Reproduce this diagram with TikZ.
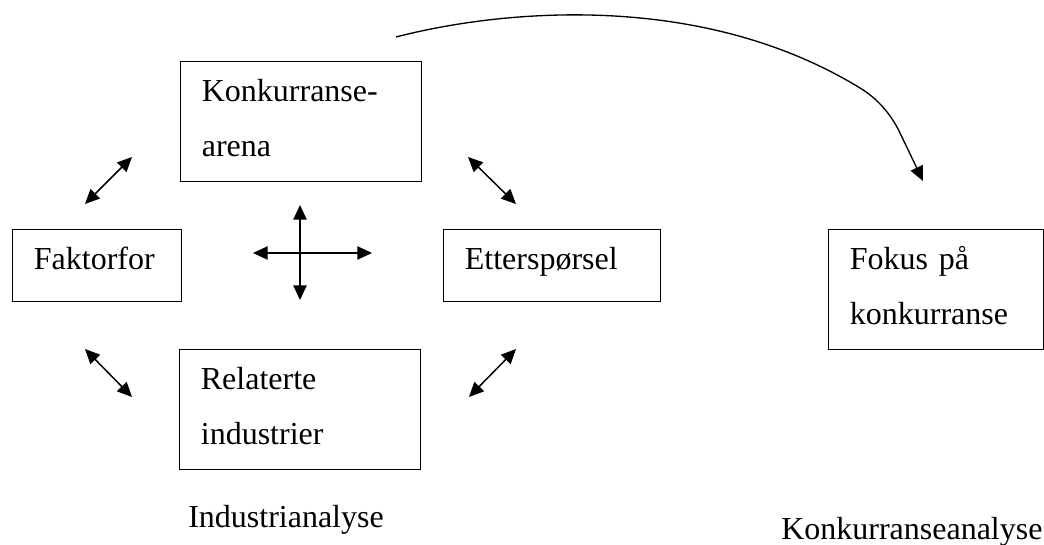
\documentclass[tikz,border=0pt]{standalone}
\usepackage{fontspec}
\setmainfont{Liberation Serif}
\usetikzlibrary{arrows.meta}
\tikzset{>={Triangle[length=11pt,width=10pt]}}
\newcommand{\opp}{\rule{0pt}{30pt}}
\newcommand{\ned}[1]{\rule[-#1]{0pt}{#1}}

\begin{document}
\begin{tikzpicture}[x=0.75pt, y=-0.75pt, font=\fontsize{24pt}{41.25pt}\selectfont,
  boks/.style={draw, line width=0.8pt, anchor=north west, inner xsep=16pt, inner ysep=0pt, align=left},
  tekst/.style={anchor=base west, inner sep=0pt},
  pil/.style={<->, line width=1.1pt}]
     \useasboundingbox (0,0) rectangle (1044,545);
     % boksene
     \node[boks, text width=148.75pt] (konk) at (180,61) {\opp Konkurranse-\\arena\ned{18.75pt}};
     \node[boks, text width=94.75pt] (faktor) at (12,229) {\opp Faktorfor\ned{24pt}};
     \node[boks, text width=130.75pt] (etter) at (443,229) {\opp Etterspørsel\ned{24pt}};
     \node[boks, text width=148.75pt] (relat) at (179,349) {\opp Relaterte\\industrier\ned{18.75pt}};
     \node[boks, text width=129.25pt] (fokus) at (828,229) {\opp Fokus på\\konkurranse\ned{18.75pt}};
     \node[tekst] (ind) at (188,527) {Industrianalyse};
     \node[tekst] (konkan) at (781,539) {Konkurranseanalyse};
     % piler mellom boksene
     \coordinate (vo1) at (85,204);  \coordinate (vo2) at (132,157);
     \coordinate (ho1) at (468,157); \coordinate (ho2) at (516,204);
     \coordinate (vn1) at (85,349);  \coordinate (vn2) at (132,397);
     \coordinate (hn1) at (469,397); \coordinate (hn2) at (516,349);
     \draw[pil] (vo1) -- (vo2);
     \draw[pil] (ho1) -- (ho2);
     \draw[pil] (vn1) -- (vn2);
     \draw[pil] (hn1) -- (hn2);
     % korset
     \coordinate (kn) at (300,205); \coordinate (ks) at (300,300);
     \coordinate (kv) at (253,253); \coordinate (kh) at (372,253);
     \draw[pil] (kn) -- (ks);
     \draw[pil] (kv) -- (kh);
     % buen til fokus
     \coordinate (bstart) at (396,37); \coordinate (bslutt) at (923,181);
     \draw[->, line width=1pt] (bstart) .. controls (500,10) and (700,-10) .. (860,88) .. controls (880,100) and (893,118) .. (900,133) -- (bslutt);
\end{tikzpicture}
\end{document}
